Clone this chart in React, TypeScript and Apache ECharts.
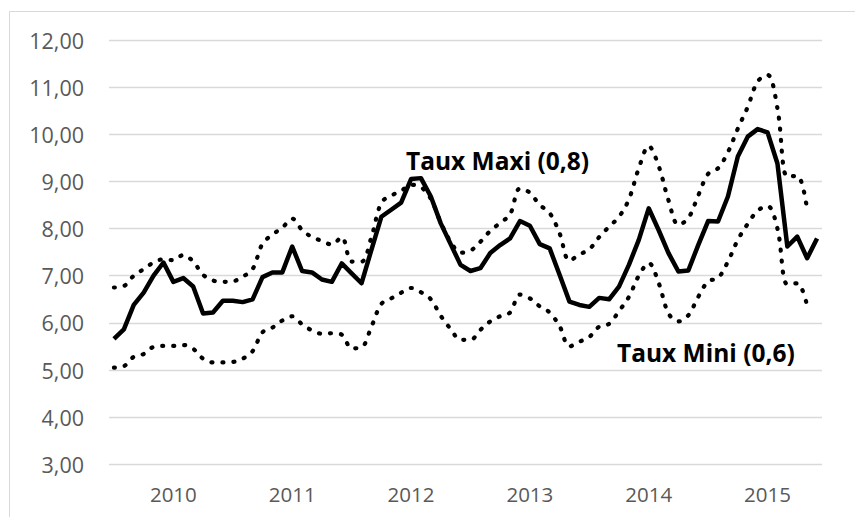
import React, { useEffect, useRef } from "react";
import * as echarts from "echarts";

// Monthly categories: July 2009 to June 2015
const startYear = 2009;
const startMonth = 7;
const monthCount = 72;
const categories: string[] = [];
for (let k = 0; k < monthCount; k++) {
  const m = startMonth - 1 + k;
  const y = startYear + Math.floor(m / 12);
  const mm = (m % 12) + 1;
  categories.push(`${y}-${mm < 10 ? "0" + mm : mm}`);
}

const yTicks = [3, 4, 5, 6, 7, 8, 9, 10, 11, 12];

const tauxReel = [
  5.66, 5.86, 6.38, 6.64, 7.0, 7.28, 6.87, 6.95, 6.77, 6.2, 6.22, 6.47,
  6.47, 6.44, 6.5, 6.97, 7.07, 7.07, 7.62, 7.1, 7.07, 6.92, 6.87, 7.26,
  7.05, 6.84, 7.55, 8.25, 8.4, 8.55, 9.05, 9.07, 8.68, 8.11, 7.67, 7.23,
  7.1, 7.16, 7.48, 7.65, 7.79, 8.16, 8.06, 7.67, 7.58, 7.02, 6.45, 6.38,
  6.34, 6.53, 6.5, 6.77, 7.23, 7.76, 8.43, 7.97, 7.48, 7.09, 7.11, 7.65,
  8.16, 8.15, 8.68, 9.53, 9.95, 10.11, 10.04, 9.38, 7.62, 7.83, 7.37, 7.79,
];

const tauxMaxi = [
  6.75, 6.78, 7.0, 7.14, 7.28, 7.35, 7.33, 7.44, 7.3, 7.02, 6.9, 6.87,
  6.88, 6.98, 7.14, 7.68, 7.87, 8.02, 8.21, 7.97, 7.82, 7.74, 7.66, 7.82,
  7.3, 7.3, 7.82, 8.55, 8.7, 8.8, 8.93, 8.88, 8.63, 8.13, 7.72, 7.49,
  7.53, 7.72, 7.95, 8.12, 8.3, 8.85, 8.76, 8.5, 8.33, 7.9, 7.32, 7.45,
  7.56, 7.82, 8.04, 8.25, 8.62, 9.28, 9.75, 9.33, 8.6, 8.08, 8.22, 8.7,
  9.16, 9.28, 9.62, 10.12, 10.58, 11.12, 11.26, 10.55, 9.1, 9.12, 8.4,
];

const tauxMini = [
  5.05, 5.08, 5.28, 5.34, 5.49, 5.51, 5.51, 5.53, 5.45, 5.24, 5.16, 5.16,
  5.17, 5.24, 5.4, 5.8, 5.9, 6.05, 6.14, 5.97, 5.84, 5.77, 5.78, 5.75,
  5.46, 5.48, 5.92, 6.4, 6.52, 6.64, 6.74, 6.65, 6.5, 6.15, 5.87, 5.64,
  5.64, 5.85, 6.03, 6.14, 6.22, 6.6, 6.52, 6.35, 6.22, 5.93, 5.5, 5.6,
  5.7, 5.92, 5.98, 6.25, 6.55, 7.0, 7.27, 6.85, 6.2, 6.03, 6.16, 6.55,
  6.88, 6.95, 7.3, 7.76, 8.1, 8.38, 8.48, 8.0, 6.82, 6.84, 6.36,
];

const labelMaxi = "Taux Maxi (0,8)";
const labelMini = "Taux Mini (0,6)";

export default function App() {
  const ref = useRef<HTMLDivElement>(null);
  useEffect(() => {
    if (!ref.current) return;
    const chart = echarts.init(ref.current, null, { renderer: "svg" });
    const dotted = {
      type: [1, 10],
      width: 4.2,
      cap: "round" as const,
      color: "#000000",
    };
    chart.setOption({
      animation: false,
      backgroundColor: "#ffffff",
      grid: { left: 109, right: 33, top: 40, bottom: 52.7, containLabel: false },
      xAxis: {
        type: "category",
        data: categories,
        boundaryGap: true,
        axisLine: { show: false },
        axisTick: { show: false },
        splitLine: { show: false },
        axisLabel: {
          interval: (_i: number, v: string) => v.endsWith("-01"),
          formatter: (v: string) => v.slice(0, 4),
          color: "#595959",
          fontFamily: "Open Sans",
          fontSize: 20.5,
          margin: 19,
        },
      },
      yAxis: {
        type: "value",
        min: yTicks[0],
        max: yTicks[yTicks.length - 1],
        interval: 1,
        axisLine: { show: false },
        axisTick: { show: false },
        splitLine: { lineStyle: { color: "#d9d9d9", width: 1.3 } },
        axisLabel: {
          formatter: (v: number) => v.toFixed(2).replace(".", ","),
          color: "#595959",
          fontFamily: "Open Sans",
          fontSize: 21.5,
          margin: 25,
        },
      },
      series: [
        {
          name: "Taux",
          type: "line",
          data: tauxReel,
          showSymbol: false,
          symbol: "none",
          lineStyle: { color: "#000000", width: 4.5, join: "round" },
          z: 3,
        },
        {
          name: labelMaxi,
          type: "line",
          data: tauxMaxi,
          symbol: "none",
          smooth: 0.35,
          lineStyle: dotted,
          z: 2,
        },
        {
          name: labelMini,
          type: "line",
          data: tauxMini,
          symbol: "none",
          smooth: 0.35,
          lineStyle: dotted,
          z: 2,
        },
      ],
      graphic: [
        {
          type: "rect",
          shape: { x: 9.5, y: 11.5, width: 900, height: 600 },
          style: { fill: "none", stroke: "#d9d9d9", lineWidth: 1 },
          silent: true,
        },
        {
          type: "text",
          x: 406,
          y: 160,
          style: {
            text: labelMaxi,
            fontFamily: "Open Sans",
            fontWeight: "bold",
            fontSize: 24.5,
            fill: "#000000",
            textVerticalAlign: "middle",
          },
        },
        {
          type: "text",
          x: 617,
          y: 352,
          style: {
            text: labelMini,
            fontFamily: "Open Sans",
            fontWeight: "bold",
            fontSize: 24.5,
            fill: "#000000",
            textVerticalAlign: "middle",
          },
        },
      ],
    });
    return () => chart.dispose();
  }, []);
  return (
    <div
      ref={ref}
      style={{ position: "fixed", left: 0, top: 0, width: 855, height: 517 }}
    />
  );
}
